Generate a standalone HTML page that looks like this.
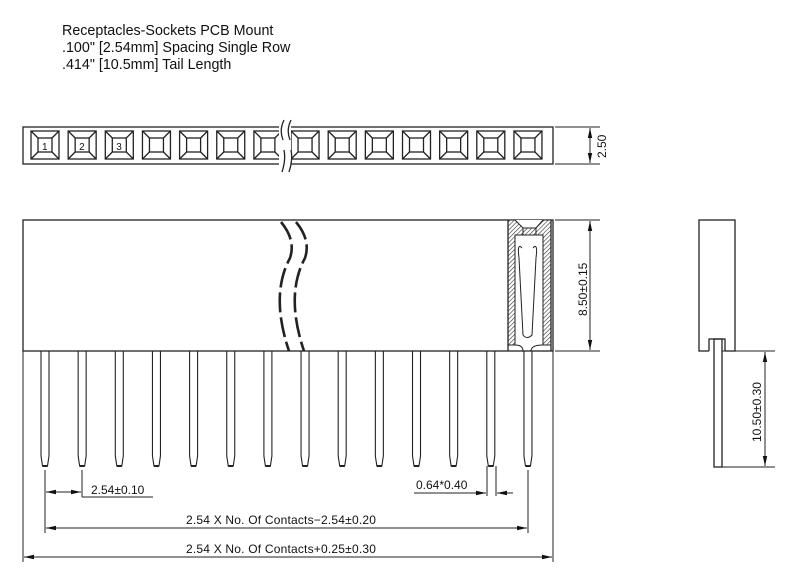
<!DOCTYPE html>
<html><head><meta charset="utf-8"><style>
html,body{margin:0;padding:0;background:#fff;}
svg{display:block;}
text{font-family:"Liberation Sans",sans-serif;fill:#111;}
</style></head><body>
<svg id="s" width="788" height="574" viewBox="0 0 788 574" xmlns="http://www.w3.org/2000/svg">
<defs>
<pattern id="h" width="3" height="3" patternUnits="userSpaceOnUse" patternTransform="rotate(45)">
<rect width="3" height="3" fill="#fff"/><line x1="0" y1="0" x2="0" y2="3" stroke="#333" stroke-width="1.2"/>
</pattern>
<marker id="a" viewBox="0 0 10 6" refX="10" refY="3" markerWidth="10" markerHeight="6" orient="auto-start-reverse" markerUnits="userSpaceOnUse"><path d="M0,0.8 L10,3 L0,5.2z" fill="#111"/></marker>
</defs>
<text x="62" y="35" font-size="14.3">Receptacles-Sockets PCB Mount</text>
<text x="62" y="52" font-size="14.3">.100" [2.54mm] Spacing Single Row</text>
<text x="62" y="69" font-size="14.3">.414" [10.5mm] Tail Length</text>
<g id="g" fill="none" stroke="#222" stroke-width="1.3"></g>
</svg>
<script>
var g=document.getElementById('g'),NS='http://www.w3.org/2000/svg',s=document.getElementById('s');
function el(t,a,p){var e=document.createElementNS(NS,t);for(var k in a)e.setAttribute(k,a[k]);(p||g).appendChild(e);return e;}
function L(x1,y1,x2,y2,ex){var o={x1:x1,y1:y1,x2:x2,y2:y2};for(var k in ex)o[k]=ex[k];return el('line',o);}
function T(x,y,txt,sz,rot){var o={x:x,y:y,'font-size':sz||12};if(rot)o.transform='rotate(-90 '+x+' '+y+')';var e=el('text',o,s);e.textContent=txt;return e;}
el('rect',{x:23,y:127,width:530,height:37});
var P=[];for(var i=0;i<14;i++)P.push(45+i*37.15);
P.forEach(function(c,i){
 el('rect',{x:c-14,y:131,width:28,height:28});
 el('rect',{x:c-7,y:138,width:14,height:14});
 L(c-14,131,c-7,138);L(c+14,131,c+7,138);L(c-14,159,c-7,152);L(c+14,159,c+7,152);
 if(i<3){T(c-3,150,String(i+1),10);}
});
el('rect',{x:279,y:118,width:12,height:55,fill:'#fff',stroke:'none'});
el('path',{d:'M284,120 Q279,130 283,140 M291,120 Q286,130 290,140 M284,150 Q286,160 282,172 M291,150 Q293,160 289,172'});
L(555,127,600,127,{'stroke-width':1});L(555,164,600,164,{'stroke-width':1});
L(590,128,590,163,{'marker-start':'url(#a)','marker-end':'url(#a)','stroke-width':1});
T(606,158,'2.50',12,true);
el('rect',{x:23,y:220,width:530,height:131});
el('path',{d:'M281,222 Q296,240 290,258 Q270,295 289,351 M296,222 Q311,240 305,258 Q285,295 304,351','stroke-width':2.6,'stroke-dasharray':'20,5'});
el('path',{d:'M508,220 L551,220 L551,345 L543,345 L543,235 L515,235 L515,345 L508,345 Z',fill:'url(#h)','stroke-width':1});
el('path',{d:'M515,220 L523,228 L536,228 L543,220 M523,228 L523,235 M536,228 L536,235',fill:'#fff','stroke-width':1});
L(508,220,508,351);L(551,220,551,351);
el('path',{d:'M522,248 Q517,242 519,258 L523,335 Q527,340 532,335 L536,258 Q538,242 533,248','stroke-width':1});
el('path',{d:'M515,345 Q523,345 523,351 M543,345 Q531,345 531,351','stroke-width':1});
P.forEach(function(c,i){
 var top=351;
 el('path',{d:'M'+(c-4)+','+top+' L'+(c-4)+',456 L'+(c-2.5)+',466 L'+(c+2.5)+',466 L'+(c+4)+',456 L'+(c+4)+','+top,'stroke-width':1.1});
 L(c-2.5,466,c+2.5,466,{'stroke-width':2});
});
L(555,220,600,220,{'stroke-width':1});L(555,351,600,351,{'stroke-width':1});
L(590,221,590,350,{'marker-start':'url(#a)','marker-end':'url(#a)','stroke-width':1});
T(587,316,'8.50±0.15',12,true);
el('rect',{x:699,y:220,width:36,height:131});
el('rect',{x:709,y:339,width:16,height:14,fill:'#fff',stroke:'none'});
el('path',{d:'M709,351 L709,339 L725,339 L725,351'});
el('rect',{x:714,y:339,width:8,height:128});
L(722,351,775,351,{'stroke-width':1});L(722,467,775,467,{'stroke-width':1});
L(765,352,765,466,{'marker-start':'url(#a)','marker-end':'url(#a)','stroke-width':1});
T(761,442,'10.50±0.30',12,true);
L(23,351,23,562,{'stroke-width':1});L(553,351,553,562,{'stroke-width':1});
L(45,470,45,533,{'stroke-width':1});L(82,470,82,497,{'stroke-width':1});L(528,470,528,533,{'stroke-width':1});
L(46,492,81,492,{'marker-start':'url(#a)','marker-end':'url(#a)','stroke-width':1});
L(82,497,153,497,{'stroke-width':1});
T(91,494,'2.54±0.10',12);
L(487,466,487,496,{'stroke-width':1});L(496,466,496,496,{'stroke-width':1});
L(414,493,486,493,{'marker-end':'url(#a)','stroke-width':1});
L(513,493,497,493,{'marker-end':'url(#a)','stroke-width':1});
T(416,489,'0.64*0.40',12);
L(46,528,527,528,{'marker-start':'url(#a)','marker-end':'url(#a)','stroke-width':1});
var t1=T(186,524,'2.54 X No. Of Contacts−2.54±0.20',12);t1.setAttribute('letter-spacing','0.2');
L(24,557,552,557,{'marker-start':'url(#a)','marker-end':'url(#a)','stroke-width':1});
var t2=T(186,553,'2.54 X No. Of Contacts+0.25±0.30',12);t2.setAttribute('letter-spacing','0.2');
</script>
</body></html>
